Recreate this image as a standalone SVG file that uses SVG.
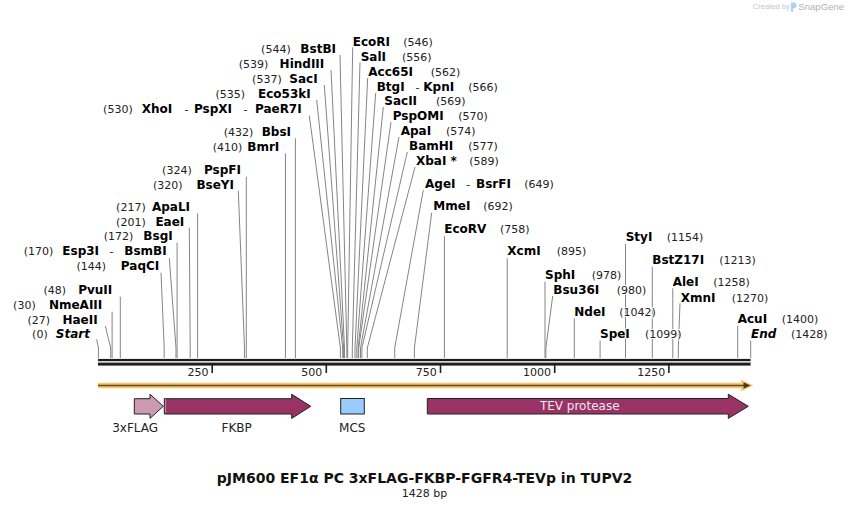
<svg xmlns="http://www.w3.org/2000/svg" width="850" height="509" viewBox="0 0 850 509">
<style>
text{font-family:"DejaVu Sans",Verdana,sans-serif}
.l{stroke:#fff;stroke-width:2;paint-order:stroke;stroke-linejoin:round}
.n{font-size:11px;fill:#222}
.b{font-size:12px;font-weight:bold;fill:#000}
.h{font-size:11px;font-weight:normal;fill:#222}
.i{font-style:italic}
.e{text-anchor:end}
.c{text-anchor:middle}
.cn polyline,.cn line{fill:none;stroke:#858585;stroke-width:1}
.ft{stroke:#222;stroke-width:1}
.fl{font-size:12px;fill:#222}
</style>
<rect width="850" height="509" fill="#fff"/>

<g id="watermark">
<text x="752.7" y="9" style="font-family:'Liberation Sans',sans-serif;font-size:7.6px;fill:#c6c6c6">Created by</text>
<path d="M791,2.5 h2.6 a3,3 0 0 1 0,6 h-0.6 v3.5 h-2 z" fill="#a6d5f3"/>
<text x="798.3" y="10" style="font-family:'Liberation Sans',sans-serif;font-size:9.6px;fill:#b2b2b2">SnapGene</text>
</g>

<g class="cn" id="connectors">
<polyline points="96.7,339.3 98.4,348 98.4,358"/>
<polyline points="105.3,326 110.7,348 110.7,358"/>
<line x1="112.1" y1="311.7" x2="112.1" y2="358"/>
<line x1="120.3" y1="296.7" x2="120.3" y2="358"/>
<polyline points="161,272.7 164.2,348 164.2,358"/>
<polyline points="169.3,258.3 176,348 176,358"/>
<line x1="177.1" y1="242.7" x2="177.1" y2="358"/>
<polyline points="189.3,227.7 190.2,348 190.2,358"/>
<line x1="197.6" y1="213.3" x2="197.6" y2="358"/>
<polyline points="238.3,190.7 244.5,348 244.5,358"/>
<line x1="246.3" y1="176.7" x2="246.3" y2="358"/>
<line x1="285.4" y1="153.3" x2="285.4" y2="358"/>
<line x1="295.4" y1="138.3" x2="295.4" y2="358"/>
<polyline points="309.3,115.7 340.4,348 340.4,358"/>
<polyline points="316.7,100 342.7,348 342.7,358"/>
<polyline points="324.3,85 343.6,348 343.6,358"/>
<polyline points="331,70 344.5,348 344.5,358"/>
<polyline points="340,55 346.8,348 346.8,358"/>
<polyline points="352.7,47.3 347.7,348 347.7,358"/>
<polyline points="360,62.3 352.3,348 352.3,358"/>
<polyline points="367.7,78 355,348 355,358"/>
<polyline points="375.7,93 356.8,348 356.8,358"/>
<polyline points="383.3,107 358.2,348 358.2,358"/>
<polyline points="391,122 358.7,348 358.7,358"/>
<polyline points="399,137 360.5,348 360.5,358"/>
<polyline points="407.3,152 361.9,348 361.9,358"/>
<polyline points="415,167 367.3,348 367.3,358"/>
<polyline points="423.3,190 394.7,348 394.7,358"/>
<polyline points="431.7,212.7 414.4,348 414.4,358"/>
<line x1="444.4" y1="236" x2="444.4" y2="358"/>
<line x1="507.2" y1="258.3" x2="507.2" y2="358"/>
<line x1="545" y1="281.7" x2="545" y2="358"/>
<polyline points="552.7,296 545.9,348 545.9,358"/>
<line x1="574.3" y1="318.3" x2="574.3" y2="358"/>
<line x1="600.1" y1="340.7" x2="600.1" y2="358"/>
<line x1="625.5" y1="244" x2="625.5" y2="358"/>
<line x1="652.3" y1="266.7" x2="652.3" y2="358"/>
<line x1="672.8" y1="288.3" x2="672.8" y2="358"/>
<polyline points="680,303.3 678.3,348 678.3,358"/>
<line x1="737.7" y1="326" x2="737.7" y2="358"/>
<line x1="750.7" y1="340.7" x2="750.7" y2="358"/>
</g>

<g id="backbone">
<rect x="98" y="358.9" width="652.6" height="2.3" fill="#1e1e1e"/>
<rect x="98" y="362.6" width="652.6" height="3" fill="#1e1e1e"/>
<g fill="#1e1e1e">
<rect x="211.4" y="365" width="1.6" height="8"/>
<rect x="325.5" y="365" width="1.6" height="8"/>
<rect x="439.7" y="365" width="1.6" height="8"/>
<rect x="553.9" y="365" width="1.6" height="8"/>
<rect x="668.1" y="365" width="1.6" height="8"/>
</g>
<g class="n e">
<text x="208.5" y="376">250</text>
<text x="322.3" y="376">500</text>
<text x="436.8" y="376">750</text>
<text x="551" y="376">1000</text>
<text x="665.2" y="376">1250</text>
</g>
</g>

<g id="orf">
<line x1="98" y1="385.5" x2="746" y2="385.5" stroke="#fbc76a" stroke-width="5.5"/>
<polygon points="741,379.8 753.5,385.5 741,391.2" fill="#fbc76a"/>
<line x1="98" y1="385.5" x2="746" y2="385.5" stroke="#5e4a2a" stroke-width="1.4"/>
<polygon points="743.5,382.2 750.5,385.5 743.5,388.8" fill="#4a3a22"/>
</g>

<g id="f-3xFLAG">
<polygon class="ft" points="134.3,398.7 150,398.7 150,394.2 163.3,406.3 150,418.4 150,414 134.3,414" fill="#cc99b2"/>
<text class="fl c" x="135.2" y="431.7">3xFLAG</text>
</g>
<g id="f-FKBP">
<polygon class="ft" points="164.3,398.7 291.7,398.7 291.7,394.2 310.7,406.3 291.7,418.4 291.7,414 164.3,414" fill="#993366"/>
<line x1="165.6" y1="399.5" x2="165.6" y2="413.5" stroke="#fff" stroke-width="0.9" stroke-dasharray="1,1"/>
<text class="fl c" x="236.7" y="431.7">FKBP</text>
</g>
<g id="f-MCS">
<rect class="ft" x="340.7" y="398.5" width="23.6" height="15.5" fill="#99ccff"/>
<text class="fl c" x="352.3" y="431.7">MCS</text>
</g>
<g id="f-TEV">
<polygon class="ft" points="427.3,398.5 728.3,398.5 728.3,394.2 748.3,406.3 728.3,418.4 728.3,414 427.3,414" fill="#993366"/>
<text class="c" x="579.7" y="410.3" style="font-size:12px;fill:#f0e6ec">TEV protease</text>
</g>

<g id="s-Start" class="l"><text class="n e" x="47.7" y="338.3">(0)</text><text class="b i e" x="90" y="338.3">Start</text></g>
<g id="s-HaeII" class="l"><text class="n e" x="50" y="324.3">(27)</text><text class="b e" x="97.7" y="324.3">HaeII</text></g>
<g id="s-NmeAIII" class="l"><text class="n e" x="35.7" y="309">(30)</text><text class="b e" x="102.3" y="309">NmeAIII</text></g>
<g id="s-PvuII" class="l"><text class="n e" x="66" y="294.3">(48)</text><text class="b e" x="112.3" y="294.3">PvuII</text></g>
<g id="s-PaqCI" class="l"><text class="n e" x="106" y="270">(144)</text><text class="b e" x="159.3" y="270">PaqCI</text></g>
<g id="s-Esp3I" class="l"><text class="n e" x="53.3" y="255">(170)</text><text class="b" x="62.3" y="255">Esp3I</text><text class="h" x="109.5" y="255">-</text><text class="b e" x="166.7" y="255">BsmBI</text></g>
<g id="s-BsgI" class="l"><text class="n e" x="133.3" y="240">(172)</text><text class="b e" x="172.7" y="240">BsgI</text></g>
<g id="s-EaeI" class="l"><text class="n e" x="145.7" y="225.7">(201)</text><text class="b e" x="184.3" y="225.7">EaeI</text></g>
<g id="s-ApaLI" class="l"><text class="n e" x="145.7" y="210.7">(217)</text><text class="b e" x="190" y="210.7">ApaLI</text></g>
<g id="s-BseYI" class="l"><text class="n e" x="182.5" y="189">(320)</text><text class="b e" x="234" y="189">BseYI</text></g>
<g id="s-PspFI" class="l"><text class="n e" x="191.7" y="174">(324)</text><text class="b e" x="241" y="174">PspFI</text></g>
<g id="s-BmrI" class="l"><text class="n e" x="242.3" y="150.7">(410)</text><text class="b e" x="279.3" y="150.7">BmrI</text></g>
<g id="s-BbsI" class="l"><text class="n e" x="253.3" y="135.7">(432)</text><text class="b e" x="291" y="135.7">BbsI</text></g>
<g id="s-XhoI" class="l"><text class="n e" x="132.7" y="113.3">(530)</text><text class="b" x="141.7" y="113.3">XhoI</text><text class="h" x="184.5" y="113.3">-</text><text class="b" x="194" y="113.3">PspXI</text><text class="h" x="243.5" y="113.3">-</text><text class="b e" x="301.7" y="113.3">PaeR7I</text></g>
<g id="s-Eco53kI" class="l"><text class="n e" x="245" y="98.3">(535)</text><text class="b e" x="310.7" y="98.3">Eco53kI</text></g>
<g id="s-SacI" class="l"><text class="n e" x="281.7" y="83.3">(537)</text><text class="b e" x="317.7" y="83.3">SacI</text></g>
<g id="s-HindIII" class="l"><text class="n e" x="268.3" y="68.3">(539)</text><text class="b e" x="324.3" y="68.3">HindIII</text></g>
<g id="s-BstBI" class="l"><text class="n e" x="290.7" y="53.3">(544)</text><text class="b e" x="336" y="53.3">BstBI</text></g>

<g id="s-EcoRI" class="l"><text class="b" x="352.7" y="45.7">EcoRI</text><text class="n" x="403.3" y="45.7">(546)</text></g>
<g id="s-SalI" class="l"><text class="b" x="360.7" y="60.7">SalI</text><text class="n" x="402" y="60.7">(556)</text></g>
<g id="s-Acc65I" class="l"><text class="b" x="368.3" y="75.7">Acc65I</text><text class="n" x="430.7" y="75.7">(562)</text></g>
<g id="s-BtgI" class="l"><text class="b" x="376.7" y="90.7">BtgI</text><text class="h" x="415.5" y="90.7">-</text><text class="b" x="423.3" y="90.7">KpnI</text><text class="n" x="468.3" y="90.7">(566)</text></g>
<g id="s-SacII" class="l"><text class="b" x="384.3" y="105">SacII</text><text class="n" x="436" y="105">(569)</text></g>
<g id="s-PspOMI" class="l"><text class="b" x="392.7" y="120">PspOMI</text><text class="n" x="458.3" y="120">(570)</text></g>
<g id="s-ApaI" class="l"><text class="b" x="400.7" y="135">ApaI</text><text class="n" x="446" y="135">(574)</text></g>
<g id="s-BamHI" class="l"><text class="b" x="409" y="150">BamHI</text><text class="n" x="468.3" y="150">(577)</text></g>
<g id="s-XbaI" class="l"><text class="b" x="416" y="165">XbaI *</text><text class="n" x="469.3" y="165">(589)</text></g>
<g id="s-AgeI" class="l"><text class="b" x="425" y="188.3">AgeI</text><text class="h" x="466.2" y="188.3">-</text><text class="b" x="476" y="188.3">BsrFI</text><text class="n" x="524.3" y="188.3">(649)</text></g>
<g id="s-MmeI" class="l"><text class="b" x="433.3" y="210">MmeI</text><text class="n" x="483.3" y="210">(692)</text></g>
<g id="s-EcoRV" class="l"><text class="b" x="444.3" y="233.3">EcoRV</text><text class="n" x="500" y="233.3">(758)</text></g>
<g id="s-XcmI" class="l"><text class="b" x="507.3" y="255">XcmI</text><text class="n" x="556.7" y="255">(895)</text></g>
<g id="s-StyI" class="l"><text class="b" x="625.7" y="241">StyI</text><text class="n" x="666.7" y="241">(1154)</text></g>
<g id="s-BstZ17I" class="l"><text class="b" x="652.3" y="264.3">BstZ17I</text><text class="n" x="719.3" y="264.3">(1213)</text></g>
<g id="s-SphI" class="l"><text class="b" x="545" y="279">SphI</text><text class="n" x="591.7" y="279">(978)</text></g>
<g id="s-AleI" class="l"><text class="b" x="672.7" y="285.7">AleI</text><text class="n" x="713.3" y="285.7">(1258)</text></g>
<g id="s-Bsu36I" class="l"><text class="b" x="553.3" y="294">Bsu36I</text><text class="n" x="616.7" y="294">(980)</text></g>
<g id="s-XmnI" class="l"><text class="b" x="680.7" y="301.7">XmnI</text><text class="n" x="731.7" y="301.7">(1270)</text></g>
<g id="s-NdeI" class="l"><text class="b" x="574.3" y="315.7">NdeI</text><text class="n" x="619.3" y="315.7">(1042)</text></g>
<g id="s-AcuI" class="l"><text class="b" x="737.7" y="322.7">AcuI</text><text class="n" x="781.7" y="322.7">(1400)</text></g>
<g id="s-SpeI" class="l"><text class="b" x="600" y="338.3">SpeI</text><text class="n" x="645" y="338.3">(1099)</text></g>
<g id="s-End" class="l"><text class="b i" x="751" y="338.3">End</text><text class="n" x="791" y="338.3">(1428)</text></g>

<g id="title">
<text class="c" x="424.5" y="483.3" style="font-size:14px;font-weight:bold;fill:#111">pJM600 EF1α PC 3xFLAG-FKBP-FGFR4-TEVp in TUPV2</text>
<text class="c" x="424.5" y="497" style="font-size:11px;fill:#222">1428 bp</text>
</g>
</svg>
